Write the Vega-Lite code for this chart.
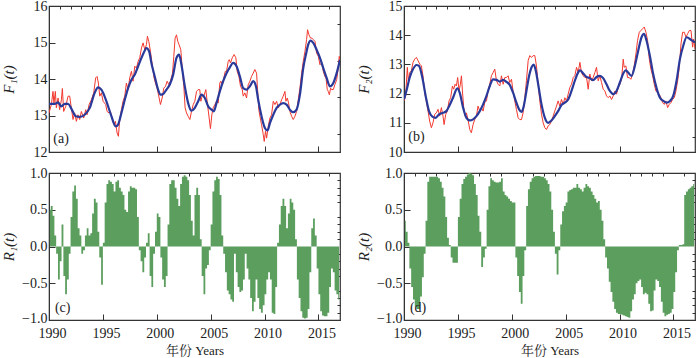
{
  "$schema": "https://vega.github.io/schema/vega-lite/v6.json",
  "padding": {"left": 0, "top": -2, "right": 0, "bottom": 0},
  "background": "white",
  "config": {
    "font": "Liberation Serif",
    "view": {"stroke": "#333", "strokeWidth": 1.2},
    "axis": {"labelFont": "Liberation Serif", "labelFontSize": 14, "labelColor": "#222", "tickColor": "#333", "domainColor": "#333", "grid": false, "titleFont": "Liberation Serif", "titleFontWeight": "normal", "titleColor": "#222", "labelFlush": false, "labelOverlap": false}
  },
  "datasets": {
    "a_raw": [{"t":1990.00,"v":13.07},{"t":1990.22,"v":13.30},{"t":1990.37,"v":13.66},{"t":1990.46,"v":13.34},{"t":1990.59,"v":13.66},{"t":1990.68,"v":13.21},{"t":1990.84,"v":13.48},{"t":1990.99,"v":13.16},{"t":1991.15,"v":13.43},{"t":1991.24,"v":13.74},{"t":1991.36,"v":13.11},{"t":1991.55,"v":13.25},{"t":1991.77,"v":13.53},{"t":1991.92,"v":13.53},{"t":1992.07,"v":13.21},{"t":1992.23,"v":12.89},{"t":1992.38,"v":13.07},{"t":1992.54,"v":12.84},{"t":1992.69,"v":13.02},{"t":1992.85,"v":12.89},{"t":1993.00,"v":13.11},{"t":1993.22,"v":12.93},{"t":1993.41,"v":13.16},{"t":1993.53,"v":13.02},{"t":1993.72,"v":13.30},{"t":1993.93,"v":13.43},{"t":1994.15,"v":13.62},{"t":1994.33,"v":14.03},{"t":1994.46,"v":14.07},{"t":1994.58,"v":13.89},{"t":1994.71,"v":13.53},{"t":1994.86,"v":13.62},{"t":1995.02,"v":13.39},{"t":1995.26,"v":13.30},{"t":1995.39,"v":13.11},{"t":1995.57,"v":13.07},{"t":1995.70,"v":13.11},{"t":1995.88,"v":12.89},{"t":1996.04,"v":12.75},{"t":1996.16,"v":12.84},{"t":1996.32,"v":12.52},{"t":1996.44,"v":12.43},{"t":1996.56,"v":12.89},{"t":1996.72,"v":13.16},{"t":1996.87,"v":13.39},{"t":1997.03,"v":13.53},{"t":1997.18,"v":13.89},{"t":1997.34,"v":13.71},{"t":1997.49,"v":14.03},{"t":1997.65,"v":14.21},{"t":1997.80,"v":13.94},{"t":1997.96,"v":14.35},{"t":1998.11,"v":14.30},{"t":1998.27,"v":14.48},{"t":1998.42,"v":14.58},{"t":1998.58,"v":14.85},{"t":1998.73,"v":14.99},{"t":1998.89,"v":14.80},{"t":1999.04,"v":14.94},{"t":1999.13,"v":15.17},{"t":1999.26,"v":15.03},{"t":1999.41,"v":14.76},{"t":1999.60,"v":14.35},{"t":1999.75,"v":14.03},{"t":1999.91,"v":13.85},{"t":2000.03,"v":13.75},{"t":2000.22,"v":13.48},{"t":2000.34,"v":13.30},{"t":2000.50,"v":13.48},{"t":2000.65,"v":13.75},{"t":2000.81,"v":13.80},{"t":2000.96,"v":13.94},{"t":2001.11,"v":13.85},{"t":2001.27,"v":13.94},{"t":2001.46,"v":14.16},{"t":2001.58,"v":14.62},{"t":2001.70,"v":15.12},{"t":2001.83,"v":15.21},{"t":2001.95,"v":15.03},{"t":2002.07,"v":14.94},{"t":2002.23,"v":14.80},{"t":2002.38,"v":14.21},{"t":2002.51,"v":13.80},{"t":2002.63,"v":13.21},{"t":2002.76,"v":13.07},{"t":2002.91,"v":12.98},{"t":2003.07,"v":12.89},{"t":2003.22,"v":13.11},{"t":2003.38,"v":13.30},{"t":2003.53,"v":13.39},{"t":2003.69,"v":13.66},{"t":2003.84,"v":13.71},{"t":2003.99,"v":13.71},{"t":2004.09,"v":13.39},{"t":2004.24,"v":13.57},{"t":2004.37,"v":13.53},{"t":2004.55,"v":13.71},{"t":2004.67,"v":13.39},{"t":2004.86,"v":12.93},{"t":2004.98,"v":12.64},{"t":2005.11,"v":13.02},{"t":2005.23,"v":13.21},{"t":2005.39,"v":13.30},{"t":2005.54,"v":13.39},{"t":2005.70,"v":13.34},{"t":2005.85,"v":13.89},{"t":2005.94,"v":13.94},{"t":2006.10,"v":13.85},{"t":2006.22,"v":14.03},{"t":2006.35,"v":14.21},{"t":2006.47,"v":14.21},{"t":2006.63,"v":14.48},{"t":2006.72,"v":14.53},{"t":2006.84,"v":14.44},{"t":2007.00,"v":14.58},{"t":2007.18,"v":14.67},{"t":2007.34,"v":14.58},{"t":2007.46,"v":14.21},{"t":2007.62,"v":14.07},{"t":2007.77,"v":13.80},{"t":2007.93,"v":13.71},{"t":2008.02,"v":13.53},{"t":2008.17,"v":13.62},{"t":2008.33,"v":13.48},{"t":2008.48,"v":13.84},{"t":2008.64,"v":13.94},{"t":2008.79,"v":14.07},{"t":2008.95,"v":14.16},{"t":2009.10,"v":14.26},{"t":2009.26,"v":14.16},{"t":2009.35,"v":13.71},{"t":2009.47,"v":13.16},{"t":2009.57,"v":12.98},{"t":2009.72,"v":12.75},{"t":2009.88,"v":12.48},{"t":2009.97,"v":12.29},{"t":2010.09,"v":12.57},{"t":2010.19,"v":12.38},{"t":2010.34,"v":12.70},{"t":2010.50,"v":12.93},{"t":2010.65,"v":13.02},{"t":2010.81,"v":13.39},{"t":2010.96,"v":13.30},{"t":2011.12,"v":13.39},{"t":2011.27,"v":13.21},{"t":2011.43,"v":13.30},{"t":2011.58,"v":13.43},{"t":2011.73,"v":13.53},{"t":2011.89,"v":13.66},{"t":2011.98,"v":13.39},{"t":2012.11,"v":13.48},{"t":2012.23,"v":13.34},{"t":2012.35,"v":13.11},{"t":2012.51,"v":12.98},{"t":2012.66,"v":12.89},{"t":2012.82,"v":12.98},{"t":2012.97,"v":13.11},{"t":2013.13,"v":13.43},{"t":2013.28,"v":13.75},{"t":2013.44,"v":14.16},{"t":2013.59,"v":14.48},{"t":2013.75,"v":14.76},{"t":2013.90,"v":15.08},{"t":2013.99,"v":15.35},{"t":2014.12,"v":15.21},{"t":2014.27,"v":15.12},{"t":2014.40,"v":15.12},{"t":2014.52,"v":15.08},{"t":2014.68,"v":15.03},{"t":2014.83,"v":14.71},{"t":2014.99,"v":14.62},{"t":2015.14,"v":14.39},{"t":2015.30,"v":14.44},{"t":2015.45,"v":14.21},{"t":2015.60,"v":14.07},{"t":2015.70,"v":14.03},{"t":2015.82,"v":13.71},{"t":2015.91,"v":13.66},{"t":2016.01,"v":13.57},{"t":2016.13,"v":13.75},{"t":2016.22,"v":13.71},{"t":2016.38,"v":13.71},{"t":2016.53,"v":13.85},{"t":2016.69,"v":13.98},{"t":2016.84,"v":14.30},{"t":2016.93,"v":14.62},{"t":2017.00,"v":14.53}],
    "a_sm": [{"t":1990.00,"v":13.32},{"t":1990.53,"v":13.32},{"t":1990.84,"v":13.36},{"t":1991.15,"v":13.25},{"t":1991.46,"v":13.32},{"t":1991.77,"v":13.32},{"t":1992.07,"v":13.19},{"t":1992.48,"v":12.98},{"t":1992.85,"v":12.96},{"t":1993.31,"v":13.02},{"t":1993.78,"v":13.21},{"t":1994.24,"v":13.62},{"t":1994.55,"v":13.77},{"t":1994.86,"v":13.71},{"t":1995.33,"v":13.39},{"t":1995.79,"v":12.98},{"t":1996.19,"v":12.70},{"t":1996.41,"v":12.75},{"t":1996.72,"v":13.07},{"t":1997.03,"v":13.43},{"t":1997.34,"v":13.75},{"t":1997.65,"v":13.98},{"t":1997.96,"v":14.12},{"t":1998.27,"v":14.35},{"t":1998.58,"v":14.58},{"t":1998.89,"v":14.78},{"t":1999.04,"v":14.85},{"t":1999.29,"v":14.76},{"t":1999.50,"v":14.44},{"t":1999.81,"v":14.07},{"t":2000.12,"v":13.71},{"t":2000.34,"v":13.57},{"t":2000.59,"v":13.59},{"t":2000.90,"v":13.71},{"t":2001.21,"v":13.85},{"t":2001.52,"v":14.12},{"t":2001.83,"v":14.58},{"t":2002.07,"v":14.67},{"t":2002.29,"v":14.39},{"t":2002.60,"v":13.80},{"t":2002.91,"v":13.34},{"t":2003.22,"v":13.13},{"t":2003.53,"v":13.21},{"t":2003.84,"v":13.39},{"t":2004.15,"v":13.57},{"t":2004.46,"v":13.48},{"t":2004.77,"v":13.25},{"t":2005.08,"v":13.16},{"t":2005.29,"v":13.11},{"t":2005.54,"v":13.34},{"t":2005.85,"v":13.66},{"t":2006.16,"v":13.94},{"t":2006.47,"v":14.16},{"t":2006.78,"v":14.32},{"t":2007.09,"v":14.44},{"t":2007.40,"v":14.35},{"t":2007.71,"v":14.07},{"t":2008.02,"v":13.75},{"t":2008.33,"v":13.71},{"t":2008.64,"v":13.80},{"t":2008.95,"v":13.94},{"t":2009.20,"v":13.80},{"t":2009.41,"v":13.43},{"t":2009.72,"v":12.98},{"t":2010.03,"v":12.66},{"t":2010.28,"v":12.59},{"t":2010.50,"v":12.79},{"t":2010.81,"v":13.02},{"t":2011.12,"v":13.21},{"t":2011.43,"v":13.30},{"t":2011.73,"v":13.34},{"t":2012.04,"v":13.30},{"t":2012.35,"v":13.16},{"t":2012.66,"v":13.09},{"t":2012.97,"v":13.16},{"t":2013.28,"v":13.57},{"t":2013.59,"v":14.30},{"t":2013.84,"v":14.67},{"t":2014.05,"v":14.94},{"t":2014.27,"v":15.05},{"t":2014.52,"v":14.99},{"t":2014.83,"v":14.80},{"t":2015.14,"v":14.58},{"t":2015.45,"v":14.30},{"t":2015.76,"v":14.03},{"t":2016.07,"v":13.80},{"t":2016.38,"v":13.89},{"t":2016.69,"v":14.16},{"t":2017.00,"v":14.53}],
    "b_raw": [{"t":1990.00,"v":11.75},{"t":1990.15,"v":11.92},{"t":1990.31,"v":12.90},{"t":1990.40,"v":12.44},{"t":1990.53,"v":12.72},{"t":1990.68,"v":12.78},{"t":1990.84,"v":13.07},{"t":1990.99,"v":13.18},{"t":1991.15,"v":13.24},{"t":1991.30,"v":13.13},{"t":1991.46,"v":13.01},{"t":1991.61,"v":12.95},{"t":1991.76,"v":12.61},{"t":1991.92,"v":12.03},{"t":1992.07,"v":11.75},{"t":1992.23,"v":11.40},{"t":1992.38,"v":11.06},{"t":1992.54,"v":10.83},{"t":1992.69,"v":11.00},{"t":1992.85,"v":11.29},{"t":1993.00,"v":11.34},{"t":1993.16,"v":11.46},{"t":1993.31,"v":11.23},{"t":1993.47,"v":11.52},{"t":1993.62,"v":11.23},{"t":1993.72,"v":10.94},{"t":1993.87,"v":11.29},{"t":1994.02,"v":11.40},{"t":1994.18,"v":11.75},{"t":1994.33,"v":11.86},{"t":1994.49,"v":12.26},{"t":1994.61,"v":12.15},{"t":1994.74,"v":12.32},{"t":1994.86,"v":12.26},{"t":1994.98,"v":12.55},{"t":1995.11,"v":12.09},{"t":1995.23,"v":12.32},{"t":1995.33,"v":12.61},{"t":1995.42,"v":12.09},{"t":1995.54,"v":11.52},{"t":1995.67,"v":11.23},{"t":1995.79,"v":11.34},{"t":1995.94,"v":11.11},{"t":1996.10,"v":10.77},{"t":1996.25,"v":10.66},{"t":1996.41,"v":10.94},{"t":1996.56,"v":11.11},{"t":1996.72,"v":11.23},{"t":1996.87,"v":11.57},{"t":1997.03,"v":11.40},{"t":1997.18,"v":11.52},{"t":1997.34,"v":11.40},{"t":1997.49,"v":11.69},{"t":1997.65,"v":11.75},{"t":1997.80,"v":12.09},{"t":1997.96,"v":12.32},{"t":1998.11,"v":12.61},{"t":1998.27,"v":12.72},{"t":1998.42,"v":12.84},{"t":1998.58,"v":12.44},{"t":1998.73,"v":12.32},{"t":1998.89,"v":12.26},{"t":1999.04,"v":12.61},{"t":1999.20,"v":12.32},{"t":1999.35,"v":12.55},{"t":1999.50,"v":12.55},{"t":1999.66,"v":12.61},{"t":1999.81,"v":12.38},{"t":1999.97,"v":12.49},{"t":2000.12,"v":12.09},{"t":2000.28,"v":11.75},{"t":2000.43,"v":11.46},{"t":2000.59,"v":11.17},{"t":2000.74,"v":11.11},{"t":2000.90,"v":11.11},{"t":2001.05,"v":11.34},{"t":2001.21,"v":11.86},{"t":2001.36,"v":12.44},{"t":2001.52,"v":13.13},{"t":2001.67,"v":13.30},{"t":2001.83,"v":13.24},{"t":2001.98,"v":13.30},{"t":2002.14,"v":13.30},{"t":2002.29,"v":12.95},{"t":2002.45,"v":12.32},{"t":2002.60,"v":11.75},{"t":2002.76,"v":11.29},{"t":2002.91,"v":11.00},{"t":2003.07,"v":10.83},{"t":2003.22,"v":10.77},{"t":2003.37,"v":10.89},{"t":2003.53,"v":10.94},{"t":2003.68,"v":11.06},{"t":2003.84,"v":11.23},{"t":2003.99,"v":11.40},{"t":2004.15,"v":11.57},{"t":2004.30,"v":11.75},{"t":2004.46,"v":11.57},{"t":2004.61,"v":11.80},{"t":2004.77,"v":11.63},{"t":2004.92,"v":11.86},{"t":2005.08,"v":11.75},{"t":2005.23,"v":11.98},{"t":2005.39,"v":12.21},{"t":2005.54,"v":12.32},{"t":2005.70,"v":12.55},{"t":2005.85,"v":12.61},{"t":2006.01,"v":12.90},{"t":2006.16,"v":12.72},{"t":2006.32,"v":13.07},{"t":2006.47,"v":12.72},{"t":2006.63,"v":12.61},{"t":2006.78,"v":12.55},{"t":2006.94,"v":12.55},{"t":2007.09,"v":12.15},{"t":2007.24,"v":12.67},{"t":2007.40,"v":12.44},{"t":2007.55,"v":12.55},{"t":2007.71,"v":12.72},{"t":2007.86,"v":12.90},{"t":2008.02,"v":12.44},{"t":2008.17,"v":12.61},{"t":2008.33,"v":12.38},{"t":2008.48,"v":12.15},{"t":2008.64,"v":12.09},{"t":2008.79,"v":11.92},{"t":2008.95,"v":11.86},{"t":2009.10,"v":11.92},{"t":2009.26,"v":11.80},{"t":2009.41,"v":11.92},{"t":2009.57,"v":12.09},{"t":2009.72,"v":11.98},{"t":2009.88,"v":12.21},{"t":2010.03,"v":12.32},{"t":2010.19,"v":12.49},{"t":2010.34,"v":13.18},{"t":2010.43,"v":12.90},{"t":2010.59,"v":12.95},{"t":2010.74,"v":12.55},{"t":2010.90,"v":12.55},{"t":2011.05,"v":12.49},{"t":2011.21,"v":12.67},{"t":2011.36,"v":12.95},{"t":2011.52,"v":13.36},{"t":2011.67,"v":13.82},{"t":2011.83,"v":14.10},{"t":2011.98,"v":14.16},{"t":2012.14,"v":14.22},{"t":2012.29,"v":14.28},{"t":2012.45,"v":14.10},{"t":2012.60,"v":13.82},{"t":2012.76,"v":13.18},{"t":2012.91,"v":12.84},{"t":2013.07,"v":12.61},{"t":2013.22,"v":12.32},{"t":2013.37,"v":12.09},{"t":2013.53,"v":12.03},{"t":2013.68,"v":11.98},{"t":2013.84,"v":11.86},{"t":2013.99,"v":11.69},{"t":2014.15,"v":11.63},{"t":2014.30,"v":11.75},{"t":2014.46,"v":11.52},{"t":2014.61,"v":11.63},{"t":2014.77,"v":11.69},{"t":2014.92,"v":11.80},{"t":2015.08,"v":11.86},{"t":2015.23,"v":12.09},{"t":2015.39,"v":12.44},{"t":2015.54,"v":12.90},{"t":2015.70,"v":13.70},{"t":2015.85,"v":14.10},{"t":2016.01,"v":14.10},{"t":2016.16,"v":13.93},{"t":2016.32,"v":14.05},{"t":2016.47,"v":14.16},{"t":2016.63,"v":14.16},{"t":2016.78,"v":13.59},{"t":2016.87,"v":13.87},{"t":2017.00,"v":13.53}],
    "b_sm": [{"t":1990.00,"v":11.80},{"t":1990.22,"v":12.09},{"t":1990.53,"v":12.55},{"t":1990.84,"v":12.84},{"t":1991.15,"v":12.98},{"t":1991.39,"v":12.95},{"t":1991.70,"v":12.55},{"t":1992.01,"v":11.92},{"t":1992.32,"v":11.40},{"t":1992.63,"v":11.21},{"t":1992.94,"v":11.17},{"t":1993.25,"v":11.29},{"t":1993.62,"v":11.34},{"t":1993.93,"v":11.40},{"t":1994.24,"v":11.61},{"t":1994.55,"v":11.86},{"t":1994.95,"v":12.18},{"t":1995.17,"v":12.03},{"t":1995.48,"v":11.52},{"t":1995.79,"v":11.17},{"t":1996.10,"v":11.08},{"t":1996.41,"v":11.12},{"t":1996.72,"v":11.23},{"t":1997.03,"v":11.40},{"t":1997.34,"v":11.63},{"t":1997.65,"v":11.92},{"t":1997.96,"v":12.26},{"t":1998.27,"v":12.49},{"t":1998.58,"v":12.47},{"t":1998.89,"v":12.41},{"t":1999.20,"v":12.47},{"t":1999.51,"v":12.40},{"t":1999.81,"v":12.30},{"t":2000.12,"v":12.03},{"t":2000.43,"v":11.69},{"t":2000.68,"v":11.46},{"t":2000.90,"v":11.37},{"t":2001.11,"v":11.57},{"t":2001.36,"v":12.09},{"t":2001.61,"v":12.61},{"t":2001.86,"v":12.92},{"t":2002.04,"v":12.99},{"t":2002.23,"v":12.78},{"t":2002.45,"v":12.32},{"t":2002.76,"v":11.63},{"t":2003.07,"v":11.17},{"t":2003.37,"v":11.00},{"t":2003.68,"v":11.08},{"t":2003.99,"v":11.23},{"t":2004.30,"v":11.40},{"t":2004.61,"v":11.61},{"t":2004.92,"v":11.69},{"t":2005.23,"v":11.80},{"t":2005.54,"v":12.09},{"t":2005.85,"v":12.44},{"t":2006.15,"v":12.72},{"t":2006.32,"v":12.80},{"t":2006.63,"v":12.69},{"t":2006.93,"v":12.57},{"t":2007.24,"v":12.53},{"t":2007.55,"v":12.46},{"t":2007.86,"v":12.57},{"t":2008.17,"v":12.61},{"t":2008.48,"v":12.53},{"t":2008.79,"v":12.32},{"t":2009.10,"v":12.09},{"t":2009.41,"v":11.98},{"t":2009.72,"v":12.09},{"t":2010.03,"v":12.38},{"t":2010.34,"v":12.69},{"t":2010.59,"v":12.80},{"t":2010.80,"v":12.72},{"t":2011.11,"v":12.61},{"t":2011.42,"v":12.95},{"t":2011.73,"v":13.47},{"t":2012.04,"v":13.93},{"t":2012.26,"v":14.05},{"t":2012.50,"v":13.82},{"t":2012.81,"v":13.30},{"t":2013.12,"v":12.67},{"t":2013.44,"v":12.18},{"t":2013.75,"v":11.86},{"t":2014.06,"v":11.75},{"t":2014.37,"v":11.69},{"t":2014.68,"v":11.75},{"t":2014.98,"v":11.92},{"t":2015.29,"v":12.44},{"t":2015.60,"v":13.18},{"t":2015.91,"v":13.64},{"t":2016.22,"v":13.93},{"t":2016.53,"v":13.87},{"t":2016.84,"v":13.79},{"t":2017.00,"v":13.76}],
    "c": [{"t":1990.08,"v":0.5},{"t":1990.25,"v":0.55},{"t":1990.42,"v":0.42},{"t":1990.58,"v":0.15},{"t":1990.75,"v":-0.1},{"t":1990.92,"v":-0.45},
          {"t":1991.08,"v":-0.2},{"t":1991.25,"v":0.3},{"t":1991.42,"v":-0.4},{"t":1991.58,"v":-0.65},{"t":1991.75,"v":-0.45},{"t":1991.92,"v":-0.1},
          {"t":1992.08,"v":0.4},{"t":1992.25,"v":0.75},{"t":1992.42,"v":0.83},{"t":1992.58,"v":0.65},{"t":1992.75,"v":0.25},{"t":1992.92,"v":0.15},
          {"t":1993.08,"v":-0.1},{"t":1993.25,"v":-0.05},{"t":1993.42,"v":0.15},{"t":1993.58,"v":0.25},{"t":1993.75,"v":0.15},{"t":1993.92,"v":0.18},
          {"t":1994.08,"v":0.45},{"t":1994.25,"v":0.65},{"t":1994.42,"v":0.6},{"t":1994.58,"v":0.2},{"t":1994.75,"v":-0.15},{"t":1994.92,"v":-0.52},
          {"t":1995.08,"v":0.05},{"t":1995.25,"v":0.6},{"t":1995.42,"v":0.85},{"t":1995.58,"v":0.9},{"t":1995.75,"v":0.88},{"t":1995.92,"v":0.85},
          {"t":1996.08,"v":0.75},{"t":1996.25,"v":0.88},{"t":1996.42,"v":0.9},{"t":1996.58,"v":0.8},{"t":1996.75,"v":0.75},{"t":1996.92,"v":0.7},
          {"t":1997.08,"v":0.5},{"t":1997.25,"v":0.47},{"t":1997.42,"v":0.75},{"t":1997.58,"v":0.82},{"t":1997.75,"v":0.8},{"t":1997.92,"v":0.8},
          {"t":1998.08,"v":0.78},{"t":1998.25,"v":0.4},{"t":1998.42,"v":-0.05},{"t":1998.58,"v":-0.2},{"t":1998.75,"v":-0.35},{"t":1998.92,"v":-0.15},
          {"t":1999.08,"v":0.05},{"t":1999.25,"v":0.18},{"t":1999.42,"v":-0.4},{"t":1999.58,"v":-0.55},{"t":1999.75,"v":-0.1},{"t":1999.92,"v":0.2},
          {"t":2000.08,"v":0.45},{"t":2000.25,"v":0.4},{"t":2000.42,"v":-0.15},{"t":2000.58,"v":-0.45},{"t":2000.75,"v":-0.55},{"t":2000.92,"v":-0.4},
          {"t":2001.08,"v":0.3},{"t":2001.25,"v":0.85},{"t":2001.42,"v":0.9},{"t":2001.58,"v":0.9},{"t":2001.75,"v":0.8},{"t":2001.92,"v":0.65},
          {"t":2002.08,"v":0.55},{"t":2002.25,"v":0.85},{"t":2002.42,"v":0.95},{"t":2002.58,"v":0.97},{"t":2002.75,"v":0.95},{"t":2002.92,"v":0.9},
          {"t":2003.08,"v":0.7},{"t":2003.25,"v":0.35},{"t":2003.42,"v":0.15},{"t":2003.58,"v":0.7},{"t":2003.75,"v":0.8},{"t":2003.92,"v":0.7},
          {"t":2004.08,"v":0.1},{"t":2004.25,"v":-0.4},{"t":2004.42,"v":-0.65},{"t":2004.58,"v":-0.3},{"t":2004.75,"v":-0.25},{"t":2004.92,"v":-0.05},
          {"t":2005.08,"v":0.3},{"t":2005.25,"v":0.75},{"t":2005.42,"v":0.9},{"t":2005.58,"v":0.95},{"t":2005.75,"v":0.92},{"t":2005.92,"v":0.7},
          {"t":2006.08,"v":0.15},{"t":2006.25,"v":-0.1},{"t":2006.42,"v":-0.35},{"t":2006.58,"v":-0.6},{"t":2006.75,"v":-0.65},{"t":2006.92,"v":-0.72},
          {"t":2007.08,"v":-0.75},{"t":2007.25,"v":-0.1},{"t":2007.42,"v":-0.35},{"t":2007.58,"v":-0.55},{"t":2007.75,"v":-0.62},{"t":2007.92,"v":-0.6},
          {"t":2008.08,"v":-0.45},{"t":2008.25,"v":-0.1},{"t":2008.42,"v":-0.3},{"t":2008.58,"v":-0.45},{"t":2008.75,"v":-0.7},{"t":2008.92,"v":-0.88},
          {"t":2009.08,"v":-0.75},{"t":2009.25,"v":-0.45},{"t":2009.42,"v":-0.7},{"t":2009.58,"v":-0.85},{"t":2009.75,"v":-0.9},{"t":2009.92,"v":-0.8},
          {"t":2010.08,"v":-0.65},{"t":2010.25,"v":-0.45},{"t":2010.42,"v":-0.35},{"t":2010.58,"v":-0.45},{"t":2010.75,"v":-0.9},{"t":2010.92,"v":-0.92},
          {"t":2011.08,"v":-0.55},{"t":2011.25,"v":0.05},{"t":2011.42,"v":0.3},{"t":2011.58,"v":0.55},{"t":2011.75,"v":0.65},{"t":2011.92,"v":0.55},
          {"t":2012.08,"v":0.25},{"t":2012.25,"v":0.45},{"t":2012.42,"v":0.65},{"t":2012.58,"v":0.6},{"t":2012.75,"v":0.5},{"t":2012.92,"v":0.1},
          {"t":2013.08,"v":-0.45},{"t":2013.25,"v":-0.7},{"t":2013.42,"v":-0.88},{"t":2013.58,"v":-0.97},{"t":2013.75,"v":-0.98},{"t":2013.92,"v":-0.97},
          {"t":2014.08,"v":-0.85},{"t":2014.25,"v":-0.35},{"t":2014.42,"v":0.25},{"t":2014.58,"v":0.38},{"t":2014.75,"v":0.15},{"t":2014.92,"v":-0.3},
          {"t":2015.08,"v":-0.65},{"t":2015.25,"v":-0.88},{"t":2015.42,"v":-0.94},{"t":2015.58,"v":-0.95},{"t":2015.75,"v":-0.95},{"t":2015.92,"v":-0.9},
          {"t":2016.08,"v":-0.55},{"t":2016.25,"v":-0.3},{"t":2016.42,"v":-0.35},{"t":2016.58,"v":-0.6},{"t":2016.75,"v":-0.65},{"t":2016.92,"v":-0.72}],
    "d": [{"t":1990.08,"v":0.35},{"t":1990.25,"v":0.2},{"t":1990.42,"v":0.05},{"t":1990.58,"v":-0.3},{"t":1990.75,"v":-0.55},{"t":1990.92,"v":-0.72},
          {"t":1991.08,"v":-0.82},{"t":1991.25,"v":-0.85},{"t":1991.42,"v":-0.85},{"t":1991.58,"v":-0.68},{"t":1991.75,"v":-0.42},{"t":1991.92,"v":-0.1},
          {"t":1992.08,"v":0.35},{"t":1992.25,"v":0.88},{"t":1992.42,"v":0.95},{"t":1992.58,"v":0.95},{"t":1992.75,"v":0.95},{"t":1992.92,"v":0.95},
          {"t":1993.08,"v":0.95},{"t":1993.25,"v":0.93},{"t":1993.42,"v":0.88},{"t":1993.58,"v":0.8},{"t":1993.75,"v":0.68},{"t":1993.92,"v":0.4},
          {"t":1994.08,"v":0.12},{"t":1994.25,"v":0.02},{"t":1994.42,"v":-0.15},{"t":1994.58,"v":-0.22},{"t":1994.75,"v":-0.22},{"t":1994.92,"v":-0.22},
          {"t":1995.08,"v":0.4},{"t":1995.25,"v":0.65},{"t":1995.42,"v":0.85},{"t":1995.58,"v":0.92},{"t":1995.75,"v":0.95},{"t":1995.92,"v":0.98},
          {"t":1996.08,"v":1.0},{"t":1996.25,"v":0.99},{"t":1996.42,"v":0.97},{"t":1996.58,"v":0.85},{"t":1996.75,"v":0.7},{"t":1996.92,"v":0.42},
          {"t":1997.08,"v":0.2},{"t":1997.25,"v":-0.28},{"t":1997.42,"v":-0.15},{"t":1997.58,"v":-0.03},{"t":1997.75,"v":0.5},{"t":1997.92,"v":0.82},
          {"t":1998.08,"v":0.93},{"t":1998.25,"v":0.9},{"t":1998.42,"v":0.88},{"t":1998.58,"v":0.87},{"t":1998.75,"v":0.87},{"t":1998.92,"v":0.88},
          {"t":1999.08,"v":0.93},{"t":1999.25,"v":0.75},{"t":1999.42,"v":0.7},{"t":1999.58,"v":0.68},{"t":1999.75,"v":0.65},{"t":1999.92,"v":0.62},
          {"t":2000.08,"v":0.6},{"t":2000.25,"v":0.6},{"t":2000.42,"v":-0.15},{"t":2000.58,"v":-0.4},{"t":2000.75,"v":-0.62},{"t":2000.92,"v":-0.78},
          {"t":2001.08,"v":-0.4},{"t":2001.25,"v":-0.05},{"t":2001.42,"v":0.55},{"t":2001.58,"v":0.78},{"t":2001.75,"v":0.88},{"t":2001.92,"v":0.93},
          {"t":2002.08,"v":0.95},{"t":2002.25,"v":0.96},{"t":2002.42,"v":0.96},{"t":2002.58,"v":0.96},{"t":2002.75,"v":0.95},{"t":2002.92,"v":0.95},
          {"t":2003.08,"v":0.93},{"t":2003.25,"v":0.9},{"t":2003.42,"v":0.85},{"t":2003.58,"v":0.75},{"t":2003.75,"v":0.5},{"t":2003.92,"v":0.2},
          {"t":2004.08,"v":-0.1},{"t":2004.25,"v":-0.38},{"t":2004.42,"v":-0.05},{"t":2004.58,"v":0.3},{"t":2004.75,"v":0.48},{"t":2004.92,"v":0.55},
          {"t":2005.08,"v":0.6},{"t":2005.25,"v":0.75},{"t":2005.42,"v":0.77},{"t":2005.58,"v":0.78},{"t":2005.75,"v":0.8},{"t":2005.92,"v":0.8},
          {"t":2006.08,"v":0.85},{"t":2006.25,"v":0.8},{"t":2006.42,"v":0.78},{"t":2006.58,"v":0.75},{"t":2006.75,"v":0.8},{"t":2006.92,"v":0.85},
          {"t":2007.08,"v":0.82},{"t":2007.25,"v":0.8},{"t":2007.42,"v":0.75},{"t":2007.58,"v":0.7},{"t":2007.75,"v":0.65},{"t":2007.92,"v":0.6},
          {"t":2008.08,"v":0.62},{"t":2008.25,"v":0.5},{"t":2008.42,"v":0.35},{"t":2008.58,"v":0.1},{"t":2008.75,"v":-0.15},{"t":2008.92,"v":-0.3},
          {"t":2009.08,"v":-0.48},{"t":2009.25,"v":-0.62},{"t":2009.42,"v":-0.75},{"t":2009.58,"v":-0.85},{"t":2009.75,"v":-0.9},{"t":2009.92,"v":-0.92},
          {"t":2010.08,"v":-0.92},{"t":2010.25,"v":-0.93},{"t":2010.42,"v":-0.94},{"t":2010.58,"v":-0.95},{"t":2010.75,"v":-0.96},{"t":2010.92,"v":-0.97},
          {"t":2011.08,"v":-0.88},{"t":2011.25,"v":-0.72},{"t":2011.42,"v":-0.65},{"t":2011.58,"v":-0.5},{"t":2011.75,"v":-0.47},{"t":2011.92,"v":-0.45},
          {"t":2012.08,"v":-0.55},{"t":2012.25,"v":-0.65},{"t":2012.42,"v":-0.63},{"t":2012.58,"v":-0.65},{"t":2012.75,"v":-0.78},{"t":2012.92,"v":-0.88},
          {"t":2013.08,"v":-0.87},{"t":2013.25,"v":-0.6},{"t":2013.42,"v":-0.45},{"t":2013.58,"v":-0.47},{"t":2013.75,"v":-0.55},{"t":2013.92,"v":-0.75},
          {"t":2014.08,"v":-0.9},{"t":2014.25,"v":-0.95},{"t":2014.42,"v":-0.93},{"t":2014.58,"v":-0.92},{"t":2014.75,"v":-0.9},{"t":2014.92,"v":-0.85},
          {"t":2015.08,"v":-0.62},{"t":2015.25,"v":-0.35},{"t":2015.42,"v":-0.05},{"t":2015.58,"v":0.02},{"t":2015.75,"v":0.02},{"t":2015.92,"v":0.03},
          {"t":2016.08,"v":0.7},{"t":2016.25,"v":0.75},{"t":2016.42,"v":0.78},{"t":2016.58,"v":0.8},{"t":2016.75,"v":0.82},{"t":2016.92,"v":0.85}]
  },
  "spacing": 5,
  "vconcat": [
    {
      "spacing": 13,
      "hconcat": [
        {
          "width": 291, "height": 146,
          "layer": [
            {"data": {"name": "a_raw"}, "mark": {"type": "line", "color": "#f2382e", "strokeWidth": 1, "clip": true},
             "encoding": {
               "x": {"field": "t", "type": "quantitative", "scale": {"domain": [1990, 2017], "nice": false, "zero": false},
                     "axis": {"values": [1990, 1995, 2000, 2005, 2010, 2015], "labels": false, "tickSize": -6, "title": null}},
               "y": {"field": "v", "type": "quantitative", "scale": {"domain": [12, 16], "nice": false, "zero": false},
                     "axis": {"values": [12, 13, 14, 15, 16], "format": "d", "tickSize": -6, "labelPadding": 8, "title": "F₁(t)", "titleFontStyle": "italic", "titleFontSize": 15, "titlePadding": 5, "minExtent": 28, "maxExtent": 28}}
             }},
            {"data": {"name": "a_sm"}, "mark": {"type": "line", "color": "#2a3a9a", "strokeWidth": 2.2, "interpolate": "monotone", "clip": true},
             "encoding": {
               "x": {"field": "t", "type": "quantitative", "axis": null},
               "y": {"field": "v", "type": "quantitative", "axis": null}
             }},
            {"data": {"values": [{"label": "(a)"}]}, "mark": {"type": "text", "align": "left", "baseline": "middle", "fontSize": 14, "font": "Liberation Serif", "color": "#222"},
             "encoding": {
               "text": {"field": "label"},
               "x": {"datum": 1990.4, "type": "quantitative", "axis": {"values": [1991,1992,1993,1994,1996,1997,1998,1999,2001,2002,2003,2004,2006,2007,2008,2009,2011,2012,2013,2014,2016], "labels": false, "domain": false, "tickSize": -3, "title": null}},
               "y": {"datum": 12.35, "type": "quantitative", "axis": {"values": [12.5, 13.5, 14.5, 15.5], "labels": false, "domain": false, "tickSize": -3, "title": null}}
             }}
          ],
          "resolve": {"axis": {"x": "independent", "y": "independent"}}
        },
        {
          "width": 291, "height": 146,
          "layer": [
            {"data": {"name": "b_raw"}, "mark": {"type": "line", "color": "#f2382e", "strokeWidth": 1, "clip": true},
             "encoding": {
               "x": {"field": "t", "type": "quantitative", "scale": {"domain": [1990, 2017], "nice": false, "zero": false},
                     "axis": {"values": [1990, 1995, 2000, 2005, 2010, 2015], "labels": false, "tickSize": -6, "title": null}},
               "y": {"field": "v", "type": "quantitative", "scale": {"domain": [10, 15], "nice": false, "zero": false},
                     "axis": {"values": [10, 11, 12, 13, 14, 15], "format": "d", "tickSize": -6, "labelPadding": 8, "title": "F₂(t)", "titleFontStyle": "italic", "titleFontSize": 15, "titlePadding": 5, "minExtent": 28, "maxExtent": 28}}
             }},
            {"data": {"name": "b_sm"}, "mark": {"type": "line", "color": "#2a3a9a", "strokeWidth": 2.2, "interpolate": "monotone", "clip": true},
             "encoding": {
               "x": {"field": "t", "type": "quantitative", "axis": null},
               "y": {"field": "v", "type": "quantitative", "axis": null}
             }},
            {"data": {"values": [{"label": "(b)"}]}, "mark": {"type": "text", "align": "left", "baseline": "middle", "fontSize": 14, "font": "Liberation Serif", "color": "#222"},
             "encoding": {
               "text": {"field": "label"},
               "x": {"datum": 1990.4, "type": "quantitative", "axis": {"values": [1991,1992,1993,1994,1996,1997,1998,1999,2001,2002,2003,2004,2006,2007,2008,2009,2011,2012,2013,2014,2016], "labels": false, "domain": false, "tickSize": -3, "title": null}},
               "y": {"datum": 10.5, "type": "quantitative", "axis": {"values": [10.5, 11.5, 12.5, 13.5, 14.5], "labels": false, "domain": false, "tickSize": -3, "title": null}}
             }}
          ],
          "resolve": {"axis": {"x": "independent", "y": "independent"}}
        }
      ]
    },
    {
      "spacing": 13,
      "hconcat": [
        {
          "width": 291, "height": 147,
          "layer": [
            {"data": {"name": "c"}, "mark": {"type": "area", "color": "#5b9e5e", "interpolate": "step", "opacity": 1, "clip": true},
             "encoding": {
               "x": {"field": "t", "type": "quantitative", "scale": {"domain": [1990, 2017], "nice": false, "zero": false},
                     "axis": {"values": [1990, 1995, 2000, 2005, 2010, 2015], "format": "d", "tickSize": -6, "labelPadding": 12, "labelOffset": 3, "title": "年份 Years", "titleFont": "Liberation Serif, Noto Serif CJK SC, Noto Sans CJK SC", "titleFontSize": 13, "titlePadding": 4}},
               "y": {"field": "v", "type": "quantitative", "scale": {"domain": [-1, 1], "nice": false},
                     "axis": {"values": [-1, -0.5, 0, 0.5, 1], "format": ".1f", "tickSize": -6, "labelPadding": 8, "labelOffset": {"condition": {"test": "datum.value === -1", "value": -2}, "value": 0}, "title": "R₁(t)", "titleFontStyle": "italic", "titleFontSize": 15, "titlePadding": 5, "minExtent": 28, "maxExtent": 28}},
               "y2": {"datum": 0}
             }},
            {"data": {"values": [{"label": "(c)"}]}, "mark": {"type": "text", "align": "left", "baseline": "middle", "fontSize": 14, "font": "Liberation Serif", "color": "#222"},
             "encoding": {
               "text": {"field": "label"},
               "x": {"datum": 1990.55, "type": "quantitative", "axis": {"values": [1991,1992,1993,1994,1996,1997,1998,1999,2001,2002,2003,2004,2006,2007,2008,2009,2011,2012,2013,2014,2016], "labels": false, "domain": false, "tickSize": -3, "title": null}},
               "y": {"datum": -0.83, "type": "quantitative", "axis": {"values": [-0.9,-0.8,-0.7,-0.6,-0.4,-0.3,-0.2,-0.1,0.1,0.2,0.3,0.4,0.6,0.7,0.8,0.9], "labels": false, "domain": false, "tickSize": -3, "title": null}}
             }}
          ],
          "resolve": {"axis": {"x": "independent", "y": "independent"}}
        },
        {
          "width": 291, "height": 147,
          "layer": [
            {"data": {"name": "d"}, "mark": {"type": "area", "color": "#5b9e5e", "interpolate": "step", "opacity": 1, "clip": true},
             "encoding": {
               "x": {"field": "t", "type": "quantitative", "scale": {"domain": [1990, 2017], "nice": false, "zero": false},
                     "axis": {"values": [1990, 1995, 2000, 2005, 2010, 2015], "format": "d", "tickSize": -6, "labelPadding": 12, "labelOffset": 3, "title": "年份 Years", "titleFont": "Liberation Serif, Noto Serif CJK SC, Noto Sans CJK SC", "titleFontSize": 13, "titlePadding": 4}},
               "y": {"field": "v", "type": "quantitative", "scale": {"domain": [-1, 1], "nice": false},
                     "axis": {"values": [-1, -0.5, 0, 0.5, 1], "format": ".1f", "tickSize": -6, "labelPadding": 8, "labelOffset": {"condition": {"test": "datum.value === -1", "value": -2}, "value": 0}, "title": "R₂(t)", "titleFontStyle": "italic", "titleFontSize": 15, "titlePadding": 5, "minExtent": 28, "maxExtent": 28}},
               "y2": {"datum": 0}
             }},
            {"data": {"values": [{"label": "(d)"}]}, "mark": {"type": "text", "align": "left", "baseline": "middle", "fontSize": 14, "font": "Liberation Serif", "color": "#222"},
             "encoding": {
               "text": {"field": "label"},
               "x": {"datum": 1990.55, "type": "quantitative", "axis": {"values": [1991,1992,1993,1994,1996,1997,1998,1999,2001,2002,2003,2004,2006,2007,2008,2009,2011,2012,2013,2014,2016], "labels": false, "domain": false, "tickSize": -3, "title": null}},
               "y": {"datum": -0.83, "type": "quantitative", "axis": {"values": [-0.9,-0.8,-0.7,-0.6,-0.4,-0.3,-0.2,-0.1,0.1,0.2,0.3,0.4,0.6,0.7,0.8,0.9], "labels": false, "domain": false, "tickSize": -3, "title": null}}
             }}
          ],
          "resolve": {"axis": {"x": "independent", "y": "independent"}}
        }
      ]
    }
  ]
}
